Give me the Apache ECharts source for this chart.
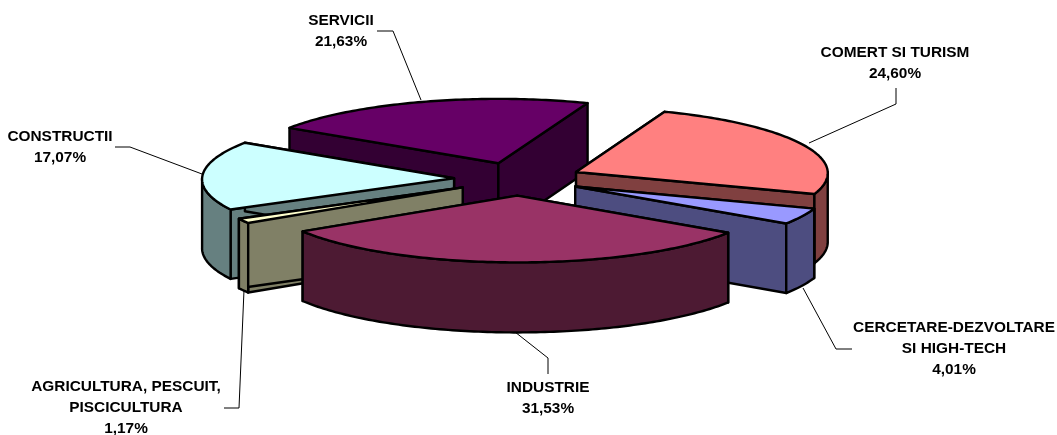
<!DOCTYPE html>
<html>
<head>
<meta charset="utf-8">
<style>
  html, body { margin: 0; padding: 0; background: #fff; }
  #myChart { width: 1057px; height: 435px; }
</style>
</head>
<body>
<div id="myChart"></div>
<script src="https://cdn.jsdelivr.net/npm/echarts@6/dist/echarts.min.js"></script>
<script>
// clockwise from the first slice
const categories = ['COMERT SI TURISM', 'CERCETARE-DEZVOLTARE\nSI HIGH-TECH', 'INDUSTRIE', 'AGRICULTURA, PESCUIT,\nPISCICULTURA', 'CONSTRUCTII', 'SERVICII']
const values = [24.60, 4.01, 31.53, 1.17, 17.07, 21.63]
const topColors = ['#ff8080', '#9999ff', '#993366', '#ffffcc', '#ccffff', '#660066']
const sideColors = ['#804040', '#4d4d80', '#4d1a33', '#808066', '#668080', '#330033']
// back to front, so nearer slices paint over the far ones
const drawOrder = [5, 4, 0, 3, 1, 2]

// label centre (first line) and leader line, same order as categories
const labelPos = [[895, 53], [954, 328], [548, 388], [126, 387], [60, 137], [341, 21]]
const leaders = [
  [[896, 88], [896, 104], [809, 143]],
  [[852, 349], [836, 349], [803, 288]],
  [[548, 374], [548, 358], [515, 332]],
  [[224, 408], [239, 408], [244, 290]],
  [[115, 147], [130, 147], [202, 174]],
  [[377, 31], [393, 31], [421, 100]]
]

const cx = 518
const cy = 179
const radius = 252
const tilt = 0.26
const depth = 69
const explode = 64
const startAngle = 21
const perspective = 0.012

const total = values.reduce((a, b) => a + b, 0)

function toAngle(cum) {
  return echarts.number.linearMap(cum, [0, total], [startAngle, startAngle + 360])
}

// ground point relative to the pie centre, gy grows to the back
function project(gx, gy, drop) {
  const s = 1 - perspective * gy / radius
  return [cx + gx * s, cy + (drop - gy * tilt) * s]
}

function polar(base, deg, r) {
  const rad = deg * Math.PI / 180
  return [base[0] + r * Math.sin(rad), base[1] + r * Math.cos(rad)]
}

function arcPoints(base, from, to, drop) {
  const pts = []
  const steps = Math.max(2, Math.ceil(Math.abs(to - from)))
  for (let i = 0; i <= steps; i++) {
    const p = polar(base, from + (to - from) * i / steps, radius)
    pts.push(project(p[0], p[1], drop))
  }
  return pts
}

function renderSlice(params, api) {
  const idx = api.value(0)
  let cum = 0
  for (let i = 0; i < idx; i++) cum += values[i]
  const a0 = toAngle(cum)
  const a1 = toAngle(cum + api.value(1))
  const base = polar([0, 0], (a0 + a1) / 2, explode)
  const apex = project(base[0], base[1], 0)
  const apexLow = project(base[0], base[1], depth)
  const poly = (points, fill) => ({
    type: 'polygon',
    shape: { points: points },
    style: { fill: fill, stroke: '#000', lineWidth: 2.4, lineJoin: 'round' }
  })
  const children = []

  // radial faces first, the far ones get covered by the top and wall
  ;[a0, a1].forEach(a => {
    const p = polar(base, a, radius)
    children.push(poly([apex, project(p[0], p[1], 0), project(p[0], p[1], depth), apexLow], sideColors[idx]))
  })

  // outer wall, only the part that faces the viewer
  const wallFrom = Math.max(a0, 90)
  const wallTo = Math.min(a1, 270)
  if (wallTo > wallFrom) {
    const upper = arcPoints(base, wallFrom, wallTo, 0)
    const lower = arcPoints(base, wallFrom, wallTo, depth).reverse()
    children.push(poly(upper.concat(lower), sideColors[idx]))
  }

  children.push(poly([apex].concat(arcPoints(base, a0, a1, 0)), topColors[idx]))
  return { type: 'group', children: children }
}

const lineHeight = 20.7
const graphics = []
categories.forEach((name, i) => {
  const text = name + '\n' + values[i].toFixed(2).replace('.', ',') + '%'
  graphics.push({
    type: 'text',
    x: labelPos[i][0],
    y: labelPos[i][1] + (text.split('\n').length - 1) * lineHeight / 2,
    style: {
      text: text,
      fill: '#000',
      font: 'bold 15.4px "Liberation Sans", Arial, sans-serif',
      lineHeight: lineHeight,
      align: 'center',
      verticalAlign: 'middle'
    }
  })
  graphics.push({
    type: 'polyline',
    shape: { points: leaders[i] },
    style: { stroke: '#000', lineWidth: 1, fill: null }
  })
})

const myChart = echarts.init(document.getElementById('myChart'))
myChart.setOption({
  animation: false,
  backgroundColor: '#fff',
  graphic: graphics,
  series: [
    {
      type: 'custom',
      coordinateSystem: 'none',
      renderItem: renderSlice,
      data: drawOrder.map(i => [i, values[i]])
    }
  ]
})
</script>
</body>
</html>
